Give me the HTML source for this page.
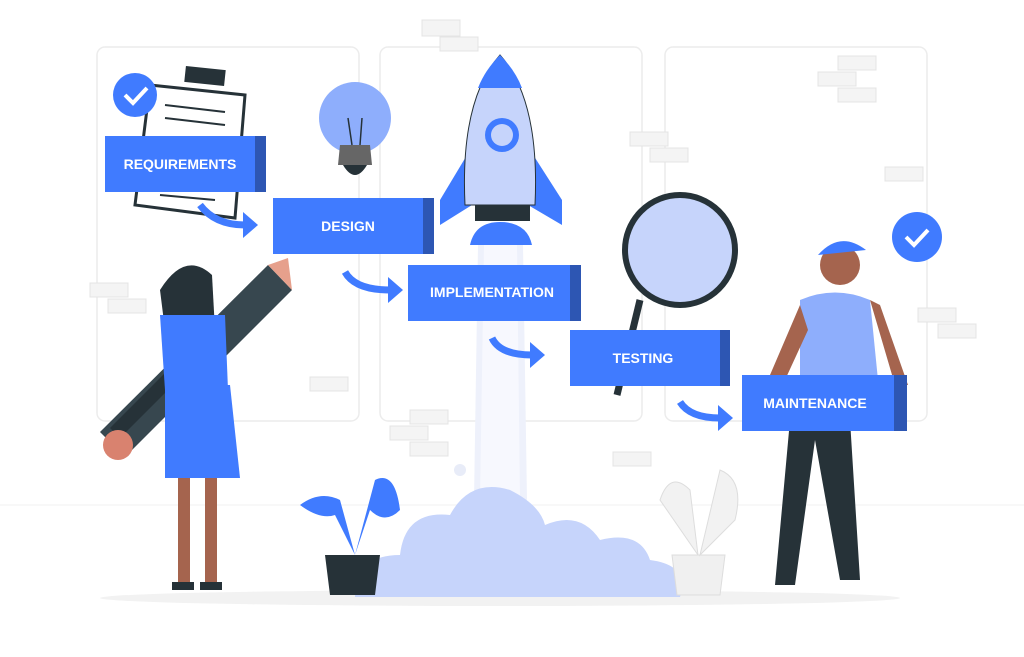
<!DOCTYPE html>
<html><head><meta charset="utf-8"><style>
html,body{margin:0;padding:0;background:#fff;}
svg{display:block;}
text{font-family:"Liberation Sans",sans-serif;font-weight:bold;fill:#fff;font-size:14px;}
</style></head><body>
<svg width="1024" height="657" viewBox="0 0 1024 657" xmlns="http://www.w3.org/2000/svg">
<g fill="none" stroke="#ececec" stroke-width="1.5">
<rect x="97" y="47" width="262" height="374" rx="8"/>
<rect x="380" y="47" width="262" height="374" rx="8"/>
<rect x="665" y="47" width="262" height="374" rx="8"/>
</g>
<g fill="#f4f4f4" stroke="#e4e4e4">
<rect x="422" y="20" width="38" height="16"/><rect x="440" y="37" width="38" height="14"/>
<rect x="838" y="56" width="38" height="14"/><rect x="818" y="72" width="38" height="14"/><rect x="838" y="88" width="38" height="14"/>
<rect x="630" y="132" width="38" height="14"/><rect x="650" y="148" width="38" height="14"/>
<rect x="885" y="167" width="38" height="14"/>
<rect x="90" y="283" width="38" height="14"/><rect x="108" y="299" width="38" height="14"/>
<rect x="918" y="308" width="38" height="14"/><rect x="938" y="324" width="38" height="14"/>
<rect x="310" y="377" width="38" height="14"/>
<rect x="410" y="410" width="38" height="14"/><rect x="390" y="426" width="38" height="14"/><rect x="410" y="442" width="38" height="14"/>
<rect x="613" y="452" width="38" height="14"/>
</g>
<ellipse cx="500" cy="598" rx="400" ry="8" fill="#f2f2f2"/>
<line x1="0" y1="505" x2="1024" y2="505" stroke="#f0f0f0"/>
<path d="M478 245 L523 245 L527 500 L474 500 Z" fill="#eef1fb"/>
<path d="M484 245 L517 245 L520 500 L480 500 Z" fill="#f7f8fe"/>
<path d="M355 597 Q355 555 400 555 Q405 510 450 515 Q470 478 510 490 Q540 505 545 525 Q580 510 600 540 Q640 530 650 560 Q690 565 680 597 Z" fill="#c6d4fb"/>
<path d="M470 150 L440 200 L440 225 L472 205 Z" fill="#407bff"/>
<path d="M530 150 L562 200 L562 225 L528 205 Z" fill="#407bff"/>
<path d="M500 55 Q540 100 535 205 L465 205 Q460 100 500 55 Z" fill="#c6d4fb" stroke="#263238" stroke-width="1"/>
<path d="M500 55 Q515 70 522 88 L478 88 Q485 70 500 55Z" fill="#407bff"/>
<circle cx="502" cy="135" r="17" fill="#407bff"/><circle cx="502" cy="135" r="11" fill="#c6d4fb"/>
<rect x="475" y="205" width="55" height="16" fill="#263238"/>
<path d="M470 245 Q475 222 500 222 Q527 222 532 245 Z" fill="#407bff"/>
<circle cx="355" cy="118" r="36" fill="#8eaefc"/>
<path d="M340 145 L370 145 L372 165 L338 165 Z" fill="#666"/>
<path d="M343 165 Q355 185 367 165 Z" fill="#263238"/>
<path d="M352 145 L348 118 M360 145 L362 118" stroke="#263238" stroke-width="1.5"/>
<path d="M150 85 L245 95 L235 218 L135 205 Z" fill="#fff" stroke="#263238" stroke-width="3"/>
<rect x="185" y="68" width="40" height="16" fill="#263238" transform="rotate(6 205 76)"/>
<g stroke="#263238" stroke-width="2"><line x1="165" y1="105" x2="225" y2="112"/><line x1="165" y1="118" x2="225" y2="125"/><line x1="160" y1="195" x2="215" y2="200"/></g>
<circle cx="135" cy="95" r="22" fill="#407bff"/>
<path d="M125 95 L133 103 L147 88" stroke="#fff" stroke-width="4" fill="none"/>
<line x1="640" y1="300" x2="617" y2="395" stroke="#263238" stroke-width="7"/>
<circle cx="680" cy="250" r="55" fill="#c6d4fb" stroke="#263238" stroke-width="6"/>
<circle cx="917" cy="237" r="25" fill="#407bff"/>
<path d="M906 237 L914 245 L928 230" stroke="#fff" stroke-width="4" fill="none"/>
<g fill="none" stroke="#407bff" stroke-width="7">
<path d="M200 205 Q215 225 245 225"/>
<path d="M345 272 Q355 290 390 290"/>
<path d="M492 338 Q500 355 532 355"/>
<path d="M680 402 Q690 418 720 418"/>
</g>
<g fill="#407bff">
<path d="M243 212 L258 225 L243 238 Z"/><path d="M388 277 L403 290 L388 303 Z"/>
<path d="M530 342 L545 355 L530 368 Z"/><path d="M718 405 L733 418 L718 431 Z"/>
</g>
<rect x="105" y="136" width="150" height="56" fill="#407bff"/><rect x="255" y="136" width="11" height="56" fill="#2d56b3"/>
<text x="180" y="169" text-anchor="middle">REQUIREMENTS</text>
<rect x="273" y="198" width="150" height="56" fill="#407bff"/><rect x="423" y="198" width="11" height="56" fill="#2d56b3"/>
<text x="348" y="231" text-anchor="middle">DESIGN</text>
<rect x="408" y="265" width="162" height="56" fill="#407bff"/><rect x="570" y="265" width="11" height="56" fill="#2d56b3"/>
<text x="492" y="297" text-anchor="middle">IMPLEMENTATION</text>
<rect x="570" y="330" width="150" height="56" fill="#407bff"/><rect x="720" y="330" width="10" height="56" fill="#2d56b3"/>
<text x="643" y="363" text-anchor="middle">TESTING</text>
<path d="M790 420 L775 585 L795 585 L815 440 L840 580 L860 580 L850 420 Z" fill="#263238"/>
<path d="M800 300 Q835 285 870 300 L880 400 L800 400 Z" fill="#8eaefc"/>
<path d="M800 305 L770 375 L785 380 L808 330 Z M870 300 L895 385 L908 385 L880 305Z" fill="#a5644e"/>
<circle cx="840" cy="265" r="20" fill="#a5644e"/>
<path d="M818 255 Q840 230 866 250 L818 255 Z" fill="#407bff"/>
<rect x="742" y="375" width="152" height="56" fill="#407bff"/><rect x="894" y="375" width="13" height="56" fill="#2d56b3"/>
<text x="815" y="408" text-anchor="middle">MAINTENANCE</text>
<path d="M100 432 L268 265 L292 290 L125 457 Z" fill="#37474f"/>
<path d="M110 428 L180 358 L190 368 L120 438Z" fill="#263238"/>
<path d="M268 265 L288 258 L292 290 Z" fill="#e6a08c"/>
<circle cx="118" cy="445" r="15" fill="#d9826f"/>
<path d="M160 290 Q185 250 212 275 L215 330 L165 330 Z" fill="#263238"/>
<path d="M160 315 L225 315 L228 390 L165 390 Z" fill="#407bff"/>
<path d="M165 385 L230 385 L240 478 L165 478 Z" fill="#407bff"/>
<rect x="178" y="478" width="12" height="105" fill="#a5644e"/><rect x="205" y="478" width="12" height="105" fill="#a5644e"/>
<rect x="172" y="582" width="22" height="8" fill="#263238"/><rect x="200" y="582" width="22" height="8" fill="#263238"/>
<path d="M325 555 L380 555 L375 595 L330 595 Z" fill="#263238"/>
<path d="M355 555 L340 500 Q320 490 300 505 Q320 520 335 515 Z M355 555 L375 480 Q395 470 400 510 Q385 525 370 510 Z" fill="#407bff"/>
<path d="M672 555 L725 555 L720 595 L677 595 Z" fill="#f0f0f0" stroke="#ddd"/>
<path d="M698 555 L690 490 Q670 470 660 500 Z M700 555 L720 470 Q745 480 735 520 Z" fill="#f2f2f2" stroke="#ddd"/>
<circle cx="460" cy="470" r="6" fill="#e8ecf8"/>
</svg>
</body></html>
